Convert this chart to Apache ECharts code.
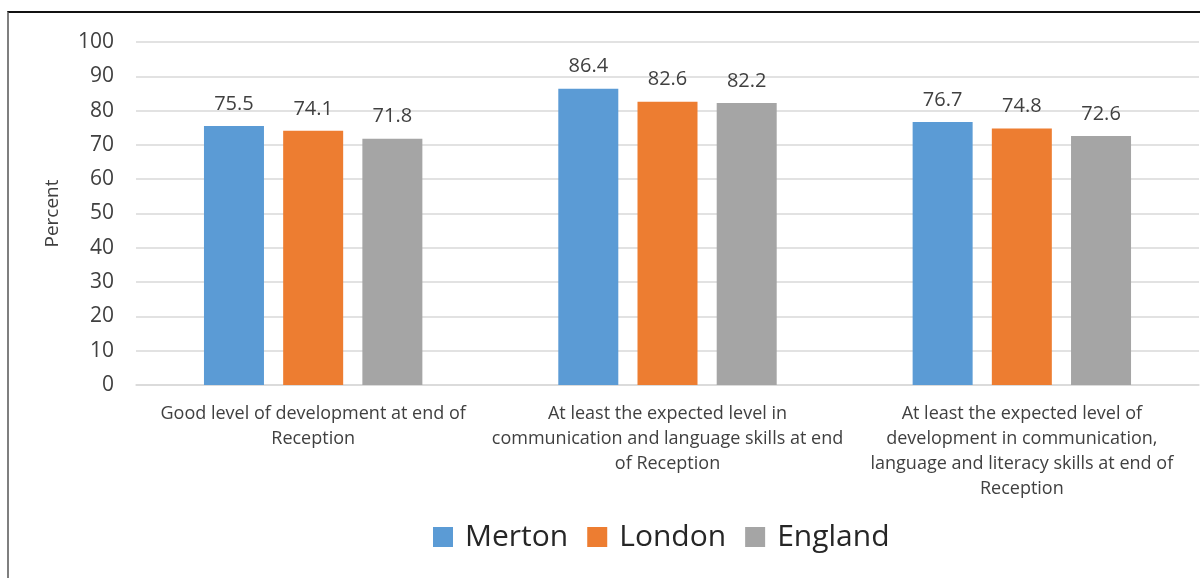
<!DOCTYPE html>
<html>
<head>
<meta charset="utf-8">
<script src="https://cdn.jsdelivr.net/npm/echarts@6/dist/echarts.min.js"></script>
<style>
  html, body { margin: 0; padding: 0; background: #fff; }
  #chart { width: 1200px; height: 578px; }
  .frame {
    position: absolute; left: 7px; top: 11px; right: 0; bottom: 0;
    border-top: 2px solid #111; border-left: 2px solid #7f7f7f;
    pointer-events: none;
  }
</style>
</head>
<body>
<div id="chart"></div>
<div class="frame"></div>
<script>
var categories = [
  'Good level of development at end of\nReception',
  'At least the expected level in\ncommunication and language skills at end\nof Reception',
  'At least the expected level of\ndevelopment in communication,\nlanguage and literacy skills at end of\nReception'
];
var seriesNames = ['Merton', 'London', 'England'];
var merton = [75.5, 86.4, 76.7];
var london = [74.1, 82.6, 74.8];
var england = [71.8, 82.2, 72.6];
var colors = ['#5B9BD5', '#ED7D31', '#A5A5A5'];

(function () {
  var myChart = echarts.init(document.getElementById('chart'));
  var font = '"Open Sans", "Liberation Sans", sans-serif';
  var values = [merton, london, england];

  var series = seriesNames.map(function (name, i) {
    return {
      name: name,
      type: 'bar',
      data: values[i],
      barWidth: 60,
      barGap: '32%',
      itemStyle: { color: colors[i] },
      label: {
        show: true,
        position: 'top',
        distance: 12,
        color: '#404040',
        fontSize: 20,
        fontFamily: font
      }
    };
  });

  var option = {
    textStyle: { fontFamily: font },
    grid: { left: 136, right: 1, top: 42, bottom: 193 },
    legend: {
      bottom: 21,
      left: 428,
      itemWidth: 20,
      itemHeight: 20,
      itemGap: 19,
      icon: 'rect',
      textStyle: { fontSize: 30, color: '#262626', fontFamily: font, padding: [0, 0, 0, 7] },
      data: seriesNames
    },
    xAxis: {
      type: 'category',
      data: categories,
      axisLine: { lineStyle: { color: '#D9D9D9', width: 1.5 } },
      axisTick: { show: false },
      axisLabel: {
        interval: 0,
        color: '#404040',
        fontSize: 18,
        lineHeight: 25,
        margin: 16,
        fontFamily: font
      }
    },
    yAxis: {
      type: 'value',
      min: 0,
      max: 100,
      interval: 10,
      name: 'Percent',
      nameLocation: 'middle',
      nameGap: 74,
      nameTextStyle: { fontSize: 19, color: '#404040', fontFamily: font },
      axisLine: { show: false },
      axisTick: { show: false },
      axisLabel: { color: '#404040', fontSize: 21, margin: 22, fontFamily: font },
      splitLine: { lineStyle: { color: '#D9D9D9', width: 1.5 } }
    },
    series: series
  };

  myChart.setOption(option);
  window.addEventListener('resize', function () {
    myChart.resize();
  });
})();
</script>
</body>
</html>
